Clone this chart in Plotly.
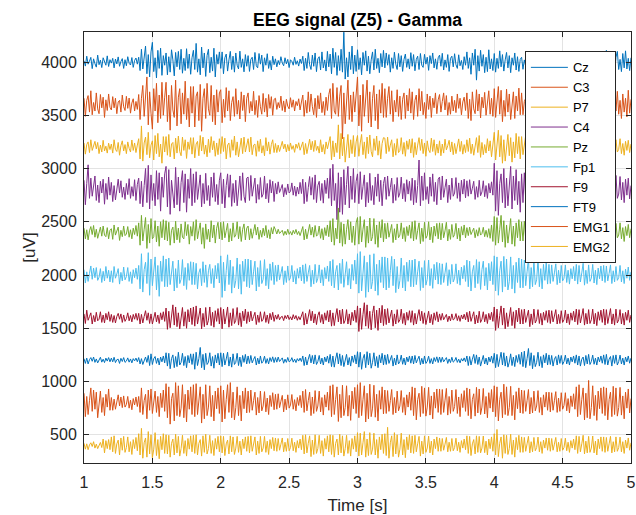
import numpy as np
import plotly.graph_objects as go

channels = ["Cz", "C3", "P7", "C4", "Pz", "Fp1", "F9", "FT9", "EMG1", "EMG2"]
offsets = [4000, 3600, 3200, 2800, 2400, 2000, 1600, 1200, 800, 400]
colors = ["#0072BD", "#D95319", "#EDB120", "#7E2F8E", "#77AC30",
          "#4DBEEE", "#A2142F", "#0072BD", "#D95319", "#EDB120"]

t_start, t_end = 1.0, 5.0

# deviation from channel offset (uV), 0.01 s steps
cz = [12,-38,55,-20,8,44,-62,30,-15,-48,65,-25,18,-52,40,-8,-30,58,-42,22,
      -10,35,-55,28,-18,48,-40,5,32,-60,22,-35,50,-12,-28,42,-50,15,38,-20,
      45,-80,120,-65,30,150,-110,70,-140,95,185,-90,40,-150,110,-60,130,-125,60,-30,
      85,-120,50,-95,115,20,-130,90,-45,100,-70,120,-105,35,-80,125,-60,75,-115,40,
      110,-70,175,-95,30,-120,140,-55,85,-135,60,120,-100,45,-85,130,-140,70,-20,95,
      -60,95,-110,40,75,-85,20,100,-70,55,-95,85,-30,-65,102,-50,30,-92,70,-40,
      60,-88,25,45,-70,90,-35,-55,80,-20,65,-90,40,-30,78,-60,15,-75,55,-25,
      30,-45,15,-25,50,-10,-35,40,-18,25,-52,20,8,-30,45,-22,12,-38,28,-14,
      55,-80,35,-60,90,-25,-70,65,-40,85,-90,30,50,-75,95,-55,20,-85,100,-45,
      75,-110,130,-50,90,-125,60,-80,120,-95,280,-160,40,-140,95,-70,150,-110,65,-88,
      115,-70,40,-120,90,-30,105,-85,55,-110,20,95,-75,120,-60,35,-100,80,-45,110,
      -55,85,-30,70,-95,40,-60,92,-20,-70,80,-45,60,-88,25,75,-50,30,-66,88,
      -40,70,-82,25,55,-70,80,-30,-50,72,-20,45,-78,60,-15,85,-55,30,-68,40,
      65,-40,82,-75,20,-50,70,-88,35,55,-45,78,-25,-60,68,-35,15,-70,50,-30,
      95,-60,40,-115,85,-30,120,-170,60,-85,110,-40,70,-100,45,-90,115,-65,30,-80,
      80,-95,35,-60,105,-45,70,-85,20,90,-55,60,-100,40,-30,85,-75,50,-88,25,
      45,-68,20,-40,70,-25,50,-62,15,35,-55,65,-30,-45,60,-20,40,-58,28,-35,
      75,-50,98,-30,-70,85,-45,60,-95,35,70,-60,20,-85,90,-40,55,-78,30,-65,
      60,-78,25,-45,85,-30,70,-82,40,-20,65,-55,80,-35,15,-70,50,-60,75,-28,
      85,-60,110,-40,-75,95,-30,60,-115,45,100,-70,25,-90,80,-55,105,-65,35,-80,
      40]

c3 = [60,-110,40,85,-70,130,-95,20,-60,110,-40,-85,95,-30,70,-120,45,-55,100,-25,
      -50,75,-30,60,-85,25,40,-70,90,-20,-55,78,-35,62,-80,15,55,-60,30,-45,
      95,-140,60,180,-110,40,260,-190,120,-80,-230,150,-60,200,-170,90,-130,210,-100,70,
      210,-160,90,-240,180,-50,-120,230,-200,70,150,-180,110,-90,220,-140,60,-210,170,-80,
      170,-210,80,120,-150,190,-250,60,150,-130,200,-40,-100,180,-160,90,-190,140,-70,110,
      140,-170,50,-120,160,-60,130,-150,20,75,-110,150,-90,40,-135,120,-55,90,-160,60,
      110,-80,30,-60,125,-95,40,-120,85,-20,-90,105,-70,60,-115,95,-35,75,-100,50,
      60,-45,20,-30,80,-55,35,-70,50,-15,-40,65,-25,45,-60,30,-10,55,-50,25,
      90,-110,40,-80,120,-65,100,-20,-95,60,-120,85,-40,110,-75,30,-100,70,-55,95,
      150,-130,200,-60,-90,160,-110,80,180,-320,110,-180,50,230,-140,90,-160,120,-70,140,
      260,-200,90,-250,190,-110,40,230,-170,120,-210,60,180,-150,100,-230,140,-80,200,-120,
      150,-120,60,170,-90,130,-160,40,-70,140,-110,80,-140,50,110,-130,90,-60,150,-80,
      120,-140,40,90,-110,150,-60,125,-95,20,-130,100,-45,80,-120,60,-30,110,-85,45,
      95,-70,30,110,-50,85,-100,20,-90,80,-60,40,-75,100,-35,60,-95,25,70,-55,
      110,-130,50,-150,120,-40,-85,140,-60,100,-125,70,-30,115,-100,45,130,-90,60,-110,
      150,-120,60,170,-90,135,-160,40,-110,145,-70,100,-140,30,120,-130,80,-60,155,-95,
      110,-95,30,60,-120,100,-45,115,-80,20,-100,90,-60,40,-110,85,-30,70,-95,50,
      90,-110,40,60,-75,105,-40,85,-95,20,-70,100,-55,30,-90,80,-35,65,-100,45,
      100,-80,40,120,-60,95,-125,30,-90,110,-65,50,-100,80,-30,115,-85,20,-70,95,
      130,-100,50,150,-120,85,-140,30,110,-60,125,-90,40,-130,100,-70,60,-115,135,-80,
      50]

p7 = [40,-65,25,50,-50,70,-30,15,55,-15,45,-60,20,-45,65,-35,10,-55,38,-22,
      30,-55,70,-20,-40,45,-75,15,60,-35,25,-60,50,-10,-45,68,-30,40,-50,20,
      80,-110,200,-130,40,95,-70,140,-100,20,60,-120,110,-60,130,-90,30,-150,100,-45,
      100,-75,120,-90,30,45,-110,85,-55,105,-40,-80,95,-30,70,-105,50,-20,90,-65,
      90,-100,30,55,-80,110,-35,95,-65,20,-90,75,-50,100,-25,60,-85,40,-70,80,
      -60,100,-40,85,-110,20,40,-95,70,-30,105,-75,50,-90,25,85,-60,95,-45,30,
      80,-45,95,-70,20,30,-85,60,-40,75,-55,15,-80,90,-35,50,-65,25,70,-50,
      35,-50,20,-40,10,55,-15,30,-45,25,-35,40,-20,15,-48,30,-10,42,-28,18,
      50,-70,35,-60,20,75,-25,55,-40,65,-30,10,-55,70,-45,25,-65,50,-15,40,
      100,-120,60,-90,40,-50,210,-110,130,-80,95,-140,30,120,-100,70,-60,110,-90,50,
      110,-85,40,120,-70,50,-105,95,-60,115,-40,-90,80,-30,105,-75,60,-110,35,90,
      85,-60,95,-40,20,70,-90,35,-75,80,-50,-30,90,-65,45,-85,60,-20,75,-55,
      80,-95,45,-70,20,90,-30,75,-60,40,-85,60,-25,-50,85,-40,70,-75,30,-55,
      60,-80,30,-55,75,-25,15,65,-45,50,-70,35,-60,20,78,-40,55,-65,25,-50,
      70,-40,85,-60,30,-75,20,90,-50,110,-95,45,-70,25,-55,80,-35,60,-90,40,
      140,-120,60,160,-90,110,-150,70,-130,40,120,-80,90,-140,50,-100,130,-60,100,-110,
      100,-70,30,110,-90,45,-105,80,-60,95,-35,-75,100,-50,65,-95,20,85,-60,40,
      85,-60,90,-40,20,70,-95,35,-65,80,-50,-25,85,-70,45,-90,60,-30,75,-55,
      90,-70,55,-95,20,80,-35,100,-60,45,-85,30,-70,65,-50,90,-25,-60,75,-40,
      75,-55,85,-40,20,60,-80,30,-65,70,-45,-20,80,-60,35,-75,55,-30,65,-50,
      30]

c4 = [90,-140,60,235,-80,110,-60,20,130,-100,45,-120,80,-30,100,-135,60,-90,120,-50,
      70,-110,40,-95,20,100,-30,85,-70,25,-90,60,-45,105,-80,30,-60,95,-100,50,
      110,-130,80,-160,40,200,-120,230,-180,140,-100,60,-150,180,-90,160,-200,120,-70,150,
      220,-160,190,-230,90,-50,-170,210,-140,120,-200,70,180,-120,150,-210,100,-80,200,-150,
      150,-120,170,-90,30,140,-160,60,-130,155,-100,40,-150,120,-70,160,-110,50,-140,90,
      160,-130,100,-170,40,150,-70,140,-155,60,-120,90,-150,30,130,-100,160,-60,-120,110,
      120,-100,135,-60,20,110,-125,50,-90,115,-70,-40,130,-85,60,-120,95,-30,80,-110,
      60,-40,75,-25,10,50,-65,20,-45,55,-30,-15,65,-50,35,-60,25,-40,70,-35,
      100,-130,70,-110,20,125,-50,115,-90,140,-120,40,80,-100,60,-125,90,-35,110,-80,
      200,-150,240,-100,60,-280,160,-210,120,-230,190,-140,50,220,-170,130,-90,200,-120,80,
      150,-130,170,-90,30,140,-160,70,-120,155,-100,40,-140,120,-60,150,-110,90,-150,60,
      120,-90,130,-60,20,110,-125,50,-100,115,-70,-30,120,-85,60,-110,95,-40,80,-100,
      110,-140,90,-120,40,280,-150,130,-100,160,-90,30,-130,120,-60,150,-110,70,-140,100,
      120,-95,130,-70,20,100,-120,45,-90,110,-60,-30,115,-80,65,-110,90,-40,100,-75,
      85,-60,95,-40,15,80,-90,30,-70,90,-55,-20,85,-65,40,-80,60,-30,75,-50,
      250,-200,180,-240,60,150,-120,200,-170,110,-150,40,220,-180,130,-100,190,-140,80,-210,
      150,-120,160,-90,30,130,-145,60,-110,140,-80,-40,150,-100,70,-130,110,-50,120,-95,
      130,-100,140,-70,20,110,-125,50,-90,120,-60,-30,125,-85,60,-115,95,-40,105,-75,
      120,-90,110,-60,20,125,-100,45,-115,95,-70,-30,115,-80,60,-105,90,-40,100,-65,
      130,-110,150,-90,30,120,-140,60,-100,135,-80,-40,125,-95,70,-120,100,-50,110,-85,
      40]

pz = [40,-60,25,-70,15,55,-20,65,-45,30,-55,10,50,-35,60,-25,-40,45,-60,20,
      35,-65,70,-25,10,50,-75,20,-40,60,-30,-15,55,-45,25,-60,40,-20,65,-35,
      90,-120,160,-80,30,140,-150,75,-100,130,-60,-40,110,-90,60,-130,100,-50,120,-70,
      110,-80,95,-120,20,50,-100,105,-70,40,-95,80,-45,-60,100,-30,75,-110,55,-35,
      100,-75,120,-60,20,90,-110,45,-150,80,-65,30,-90,110,-50,70,-100,40,95,-60,
      95,-70,100,-50,15,85,-90,35,-80,90,-45,-25,100,-60,55,-85,30,80,-70,40,
      60,-70,35,-55,10,75,-25,50,-65,20,-45,40,-30,65,-50,25,-60,45,-15,55,
      25,-15,30,-10,5,20,-28,12,-22,30,-18,8,-25,20,-12,28,-20,10,-30,15,
      55,-70,30,-60,15,75,-25,50,-45,65,-35,-20,60,-55,35,-70,45,-30,70,-40,
      110,-90,130,-120,40,-60,230,-100,95,-130,80,-110,30,120,-70,100,-95,60,-120,90,
      140,-110,150,-90,30,120,-140,60,-100,135,-80,-40,130,-110,70,-140,100,-50,120,-90,
      85,-60,90,-45,15,75,-95,35,-70,80,-50,-25,90,-60,45,-85,55,-30,70,-55,
      100,-80,110,-65,20,90,-105,40,-85,95,-55,-30,100,-70,50,-95,60,-35,85,-60,
      90,-70,85,-50,15,95,-80,30,-65,75,-45,-20,85,-60,40,-80,55,-25,70,-50,
      45,-30,50,-20,10,40,-50,25,-35,45,-25,-10,48,-40,20,-45,35,-55,70,-85,
      150,-120,140,-100,30,160,-90,110,-140,70,-100,40,130,-110,60,-130,90,-50,120,-80,
      100,-80,105,-60,20,90,-100,40,-75,95,-50,-30,100,-70,50,-90,60,-35,85,-55,
      85,-65,90,-45,15,75,-95,35,-70,80,-50,-25,85,-60,45,-85,55,-30,70,-50,
      90,-70,80,-95,20,45,-85,90,-60,70,-40,-20,85,-65,45,-90,60,-30,75,-55,
      90,-75,95,-55,15,85,-95,40,-70,85,-50,-25,90,-60,45,-85,55,-30,75,-50,
      35]

fp1 = [50,-75,30,-60,15,85,-40,65,-25,70,-50,-20,60,-70,35,-55,80,-30,45,-65,
       40,-70,80,-30,10,60,-85,25,-55,75,-45,-15,70,-60,30,-80,50,-25,65,-40,
       90,-130,200,-160,50,120,-80,210,-190,150,-100,40,170,-140,90,-200,130,-60,180,-110,
       150,-110,160,-90,30,130,-150,60,-120,140,-80,-40,145,-100,70,-135,110,-50,125,-90,
       120,-90,110,-130,20,60,-100,125,-70,95,-115,40,100,-80,60,-120,90,-35,110,-75,
       180,-210,120,-150,40,190,-90,140,-170,80,-120,-50,160,-130,100,-180,130,-60,150,-110,
       150,-120,140,-90,30,130,-150,70,-110,135,-80,-40,145,-100,60,-130,105,-50,120,-90,
       90,-60,95,-45,15,80,-90,40,-70,85,-50,-25,90,-65,40,-85,60,-30,75,-55,
       95,-80,105,-60,20,90,-110,45,-85,100,-70,-30,95,-75,50,-100,70,-35,85,-60,
       130,-100,145,-120,30,90,-140,110,-80,150,-115,40,125,-95,60,-130,100,-50,140,-85,
       200,-170,220,-150,50,180,-210,120,-160,190,-130,-60,200,-150,100,-190,140,-70,170,-120,
       170,-140,160,-120,40,175,-100,150,-165,80,-130,-50,160,-120,90,-150,120,-60,140,-110,
       140,-110,150,-90,30,130,-145,70,-120,135,-95,-40,140,-100,60,-125,100,-45,120,-85,
       110,-90,105,-70,20,115,-100,50,-85,100,-65,-30,105,-80,45,-95,75,-35,90,-60,
       140,-110,130,-150,30,90,-120,145,-80,125,-135,50,130,-100,70,-140,110,-55,125,-90,
       180,-150,170,-190,40,130,-160,175,-110,150,-140,-60,170,-130,90,-170,120,-70,160,-120,
       150,-120,140,-100,30,155,-130,70,-110,135,-90,-45,145,-110,60,-130,100,-50,120,-85,
       100,-80,95,-60,20,105,-90,45,-75,90,-55,-30,95,-70,45,-85,60,-35,80,-55,
       100,-85,90,-65,20,110,-95,45,-80,95,-60,-30,100,-75,45,-90,65,-35,85,-55,
       90,-70,85,-55,15,95,-80,40,-65,80,-50,-25,90,-65,40,-80,55,-30,75,-50,
       30]

f9 = [35,-55,70,-25,10,45,-60,20,-40,50,-30,-15,55,-45,25,-50,40,-20,55,-35,
      30,-45,20,-50,10,40,-15,35,-45,25,-35,-10,45,-30,20,-40,30,-15,40,-25,
      40,-60,30,-50,10,65,-25,45,-55,35,-60,15,50,-40,25,-55,45,-20,55,-35,
      90,-110,60,-95,20,120,-70,100,-85,45,-105,30,95,-80,55,-100,75,-40,90,-65,
      100,-80,110,-60,20,90,-105,40,-85,95,-70,-25,100,-75,50,-90,65,-35,85,-60,
      95,-105,80,-60,15,100,-90,45,-75,85,-55,-25,95,-70,45,-85,60,-30,80,-55,
      55,-40,60,-30,10,50,-65,25,-45,55,-35,-15,55,-45,25,-55,40,-20,50,-35,
      25,-15,30,-20,5,12,-28,20,-10,25,-18,8,-22,28,-12,20,-25,10,-20,15,
      55,-70,40,-60,15,75,-30,60,-50,35,-65,20,55,-45,30,-60,45,-25,65,-40,
      70,-80,45,-75,15,85,-40,70,-60,80,-55,-25,75,-60,35,-70,50,-30,70,-45,
      110,-130,90,-110,30,140,-80,120,-100,60,-115,40,110,-95,70,-120,90,-50,115,-75,
      80,-65,85,-50,15,70,-80,35,-60,75,-45,-20,80,-55,40,-70,50,-25,65,-45,
      65,-70,40,-60,15,75,-30,60,-55,45,-65,20,60,-50,30,-65,45,-25,55,-40,
      35,-25,40,-20,8,30,-38,15,-30,35,-22,-10,38,-28,18,-35,25,-12,32,-20,
      50,-40,60,-35,10,55,-60,25,-50,60,-45,-15,55,-40,30,-55,40,-20,50,-35,
      100,-120,80,-95,20,110,-70,90,-105,45,-85,30,95,-75,55,-100,70,-40,90,-60,
      75,-60,80,-45,15,70,-85,35,-65,80,-50,-20,75,-55,40,-70,50,-25,65,-45,
      70,-55,65,-40,15,75,-60,30,-55,65,-45,-20,70,-50,35,-65,45,-25,60,-40,
      80,-65,75,-50,15,85,-70,40,-60,75,-55,-20,80,-60,40,-75,55,-25,70,-45,
      80,-70,75,-55,15,85,-60,35,-70,80,-50,-20,75,-60,40,-70,50,-25,70,-45,
      25]

ft9 = [15,-30,20,-35,5,25,-10,30,-20,12,-25,-5,28,-18,10,-22,20,-8,25,-15,
       20,-15,28,-22,5,10,-30,18,-12,25,-20,-8,22,-18,12,-25,15,-6,20,-14,
       25,-35,15,-40,8,30,-20,45,-50,60,-40,15,35,-30,20,-45,30,-15,40,-25,
       70,-55,65,-80,15,50,-70,35,-60,75,-45,-20,65,-50,35,-70,45,-25,60,-40,
       60,-85,75,-50,15,120,-70,55,-90,65,-40,-20,70,-55,35,-75,50,-25,65,-45,
       70,-60,65,-45,12,75,-55,30,-65,60,-40,-20,65,-50,30,-60,45,-20,55,-35,
       40,-30,45,-25,8,35,-45,20,-35,40,-28,-10,38,-30,15,-35,25,-12,32,-22,
       25,-18,30,-12,5,22,-28,10,-20,26,-15,-6,24,-18,10,-22,15,-8,20,-12,
       40,-50,30,-45,10,55,-25,45,-35,50,-40,-12,45,-35,20,-45,30,-15,40,-28,
       55,-60,40,-65,12,70,-35,60,-50,45,-60,-15,55,-45,25,-55,40,-20,50,-35,
       80,-65,75,-85,15,55,-70,80,-45,65,-75,-20,70,-55,35,-70,50,-25,65,-45,
       50,-40,55,-30,10,45,-55,20,-45,50,-35,-12,48,-38,20,-45,30,-15,40,-28,
       40,-35,45,-25,8,38,-42,18,-35,40,-30,-10,38,-30,15,-35,25,-12,32,-22,
       30,-20,28,-15,5,25,-30,12,-22,28,-18,-6,26,-20,10,-25,15,-8,22,-14,
       40,-50,35,-45,10,55,-30,50,-40,30,-55,-12,45,-35,20,-45,30,-15,40,-28,
       65,-70,55,-60,12,75,-45,70,-55,40,-65,-18,60,-50,30,-60,45,-20,55,-38,
       75,-60,85,-70,15,110,-50,70,-80,45,-60,-20,75,-55,35,-70,50,-25,65,-45,
       50,-40,45,-55,10,35,-45,50,-30,45,-40,-12,48,-35,20,-45,30,-15,40,-28,
       50,-45,40,-55,10,30,-50,45,-35,55,-40,-12,48,-38,20,-45,30,-15,40,-28,
       50,-40,55,-45,10,35,-55,45,-30,50,-45,-12,48,-35,20,-45,30,-15,40,-28,
       20]

emg1 = [90,-130,60,-110,20,140,-80,120,-60,100,-140,-30,110,-90,50,-120,80,-40,130,-70,
        50,-70,35,-60,10,75,-30,55,-45,65,-40,-15,60,-50,25,-65,40,-20,55,-35,
        60,-90,140,-110,20,80,-150,120,-70,130,-100,40,110,-90,60,-130,90,-45,120,-80,
        180,-140,150,-200,40,90,-170,190,-120,160,-130,-50,170,-140,80,-180,120,-60,150,-110,
        170,-130,180,-110,30,150,-190,80,-150,170,-120,-40,160,-130,70,-170,110,-55,140,-100,
        160,-180,120,-150,30,170,-90,190,-140,100,-160,-45,150,-120,70,-170,110,-55,140,-95,
        110,-90,120,-70,20,100,-115,50,-95,110,-75,-30,105,-85,45,-110,70,-35,95,-65,
        80,-60,85,-45,15,70,-85,35,-65,75,-50,-20,78,-60,30,-75,50,-25,70,-45,
        110,-90,125,-75,20,100,-120,55,-100,115,-80,-30,110,-85,50,-115,75,-40,100,-70,
        160,-130,170,-110,30,150,-175,80,-140,165,-120,-45,160,-125,70,-165,110,-55,145,-100,
        170,-140,190,-120,30,160,-180,90,-150,175,-130,-50,165,-135,80,-170,115,-60,150,-105,
        120,-100,115,-80,20,125,-110,50,-95,110,-75,-30,115,-90,50,-115,75,-40,100,-70,
        150,-120,140,-160,30,90,-130,155,-100,140,-125,-40,145,-115,65,-150,100,-50,130,-90,
        130,-110,125,-90,25,135,-115,60,-100,120,-80,-35,125,-100,55,-130,85,-45,115,-80,
        140,-120,130,-150,30,85,-125,145,-95,130,-110,-40,135,-105,60,-140,95,-50,125,-85,
        160,-130,150,-170,30,100,-140,175,-110,150,-120,-45,155,-120,70,-160,105,-55,140,-95,
        120,-100,115,-80,20,125,-105,50,-95,110,-75,-30,115,-90,50,-115,75,-40,100,-70,
        100,-85,95,-70,20,105,-90,45,-80,95,-60,-25,95,-75,40,-95,65,-35,85,-60,
        150,-130,170,-110,30,140,-160,90,-140,210,-150,-45,160,-120,70,-165,110,-55,140,-100,
        150,-120,140,-160,30,100,-130,155,-110,140,-125,-45,145,-115,65,-150,100,-50,130,-95,
        40]

emg2 = [20,-35,15,-40,5,25,-10,35,-25,12,-30,-5,28,-20,60,-70,45,-30,55,-40,
        80,-60,90,-75,15,50,-90,70,-45,85,-65,-20,80,-60,35,-85,55,-30,75,-50,
        110,-90,160,-120,25,70,-110,130,-80,100,-115,-35,120,-95,55,-125,85,-40,110,-75,
        100,-80,95,-110,20,60,-90,105,-70,85,-100,-30,95,-75,45,-100,65,-35,90,-60,
        95,-75,100,-90,20,55,-100,90,-65,105,-80,-30,95,-75,45,-95,65,-35,85,-60,
        90,-70,85,-95,15,50,-80,90,-60,80,-85,-25,85,-65,40,-90,60,-30,80,-55,
        85,-70,90,-55,15,80,-90,40,-75,85,-60,-25,85,-65,40,-85,55,-30,75,-50,
        70,-55,65,-45,12,70,-60,30,-55,65,-50,-20,68,-50,30,-65,45,-25,60,-40,
        95,-80,100,-70,20,90,-105,50,-85,100,-75,-30,95,-75,45,-100,65,-35,90,-60,
        100,-85,95,-110,20,60,-90,105,-70,90,-100,-30,95,-75,45,-100,65,-35,90,-60,
        120,-100,115,-90,25,130,-110,60,-95,120,-85,-35,115,-90,55,-120,80,-40,105,-75,
        110,-95,170,-120,25,90,-105,120,-80,100,-110,-35,115,-90,55,-115,80,-40,100,-70,
        90,-75,95,-60,15,85,-100,40,-80,90,-65,-25,88,-70,40,-90,60,-30,80,-55,
        70,-55,65,-45,12,75,-60,30,-55,65,-50,-20,68,-50,30,-65,45,-25,60,-40,
        90,-75,85,-95,15,55,-80,90,-65,85,-70,-25,88,-68,40,-90,60,-30,80,-55,
        110,-90,150,-105,20,80,-120,100,-75,95,-85,-30,105,-85,50,-110,75,-40,95,-65,
        80,-65,75,-55,15,85,-70,35,-60,75,-50,-20,78,-60,35,-75,50,-25,70,-45,
        70,-55,65,-45,12,75,-60,30,-55,65,-45,-20,68,-50,30,-65,45,-25,60,-40,
        90,-75,85,-60,15,95,-80,40,-70,85,-65,-25,88,-70,40,-90,60,-30,80,-55,
        80,-65,75,-55,15,85,-70,35,-60,80,-55,-20,78,-60,35,-75,50,-25,70,-45,
        25]

signals = [cz, c3, p7, c4, pz, fp1, f9, ft9, emg1, emg2]

x_ticks = [1, 1.5, 2, 2.5, 3, 3.5, 4, 4.5, 5]
x_tick_labels = ["1", "1.5", "2", "2.5", "3", "3.5", "4", "4.5", "5"]
y_ticks = [500, 1000, 1500, 2000, 2500, 3000, 3500, 4000]

FONT = "Liberation Sans, Arial, Helvetica, sans-serif"
AX = "#262626"

fig = go.Figure()
for name, off, col, sig in zip(channels, offsets, colors, signals):
    t = np.linspace(t_start, t_end, len(sig))
    fig.add_trace(go.Scatter(
        x=t, y=np.array(sig) + off, mode="lines", name=name,
        line=dict(color=col, width=1)))

axis_common = dict(
    showgrid=True, gridcolor="#e3e3e3", gridwidth=1,
    showline=True, linecolor=AX, linewidth=1, mirror="ticks",
    ticks="inside", ticklen=5, tickcolor=AX,
    tickfont=dict(family=FONT, size=16, color=AX),
    zeroline=False, automargin=False,
)

fig.update_layout(
    width=636, height=515,
    margin=dict(l=84, r=5, t=32, b=52, autoexpand=False),
    paper_bgcolor="white", plot_bgcolor="white",
    font=dict(family=FONT, color=AX),
    title=dict(text="<b>EEG signal (Z5) - Gamma</b>", x=0.5, xref="paper", xanchor="center",
               y=1 - 20 / 515, yref="container", yanchor="middle",
               font=dict(family=FONT, size=17.5, color="black")),
    xaxis=dict(range=[1, 5], tickvals=x_ticks, ticktext=x_tick_labels,
               ticklabelstandoff=5,
               title=dict(text="Time [s]", font=dict(family=FONT, size=17, color=AX), standoff=12),
               **axis_common),
    yaxis=dict(range=[235, 4282], tickvals=y_ticks,
               ticklabelstandoff=3,
               title=dict(text="[uV]", font=dict(family=FONT, size=17, color=AX), standoff=1),
               **axis_common),
    legend=dict(x=0.806, y=0.955, xanchor="left", yanchor="top",
                bgcolor="white", bordercolor=AX, borderwidth=1,
                font=dict(family=FONT, size=13, color="black"),
                tracegroupgap=0, itemwidth=37),
    showlegend=True,
)

fig.write_html("out.html")
